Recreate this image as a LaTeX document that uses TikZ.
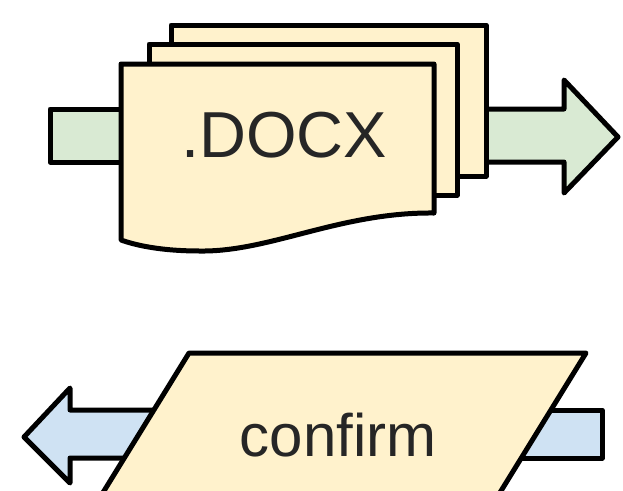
\documentclass[tikz,border=0pt]{standalone}
\usepackage{fontspec}
\setmainfont{Liberation Sans}
\definecolor{paper}{HTML}{FFF2CC}
\definecolor{flowgreen}{HTML}{D9EAD3}
\definecolor{flowblue}{HTML}{CFE2F3}
\tikzset{
  outline/.style={draw=black, line width=5pt, line join=round},
  sheet/.style={outline, fill=paper},
  greenflow/.style={outline, fill=flowgreen},
  blueflow/.style={outline, fill=flowblue},
  label/.style={inner sep=0pt, text=black!85}
}
\begin{document}
\begin{tikzpicture}[x=1pt, y=-1pt]
\useasboundingbox (0,0) rectangle (623,490);
\begin{scope}
\clip (0,0) rectangle (623,490);
% --- upper part: stacked documents with green flow through them
\draw[greenflow] (50,109) rectangle (150,162);
\draw[greenflow] (470,109) -- (564,109) -- (564,80) -- (618,137)
  -- (564,193) -- (564,162) -- (470,162) -- cycle;
\draw[sheet] (171,25) rectangle (486,176);
\draw[sheet] (149,44) rectangle (457,195);
\draw[sheet] (121,64) -- (434,64) -- (434,213)
  .. controls (340,212) and (270,252) .. (200,251)
  .. controls (160,251) and (135,245) .. (121,240) -- cycle;
\node[label, font=\fontsize{65}{65}\selectfont] (docx) at (284,135) {.DOCX};
% --- lower part: input/output parallelogram with blue flow
\draw[blueflow] (250,410) -- (70,410) -- (70,388) -- (24,437)
  -- (70,483) -- (70,458) -- (250,458) -- cycle;
\draw[blueflow] (450,410) rectangle (602,458);
\draw[sheet] (189,353) -- (586,353) -- (480,525) -- (83,525) -- cycle;
\node[label, font=\fontsize{60}{60}\selectfont] (confirm) at (338,435) {confirm};
\end{scope}
\end{tikzpicture}
\end{document}
